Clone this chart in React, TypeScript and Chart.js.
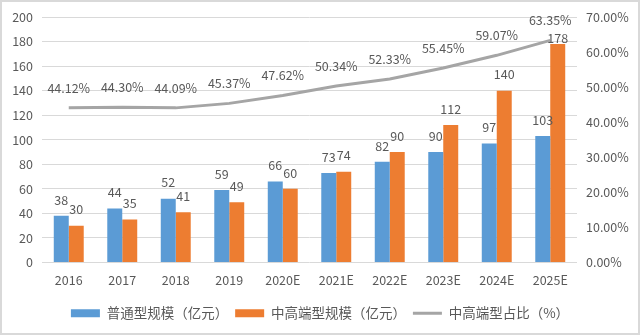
import React, { useEffect, useRef } from "react";
import { Chart, registerables } from "chart.js";

Chart.register(...registerables);

const categories = ["2016", "2017", "2018", "2019", "2020E", "2021E", "2022E", "2023E", "2024E", "2025E"];
const regularScale = [38, 44, 52, 59, 66, 73, 82, 90, 97, 103];
const highEndScale = [30, 35, 41, 49, 60, 74, 90, 112, 140, 178];
const highEndShare = [44.12, 44.3, 44.09, 45.37, 47.62, 50.34, 52.33, 55.45, 59.07, 63.35];
const seriesNames = ["普通型规模（亿元）", "中高端型规模（亿元）", "中高端型占比（%）"];
const leftAxisRange = [0, 200, 20];
const rightAxisRange = [0, 70, 10];

const FONT = '"Noto Sans CJK SC", "Noto Sans", sans-serif';
const TEXT = "#595959";
const BLUE = "#5B9BD5";
const ORANGE = "#ED7D31";
const GRAY = "#A5A5A5";

const labelPlugin = {
  id: "valueLabels",
  afterDatasetsDraw(chart: any) {
    const { ctx, chartArea } = chart;
    ctx.save();
    ctx.font = `12.5px ${FONT}`;
    ctx.fillStyle = TEXT;
    ctx.textAlign = "center";
    ctx.textBaseline = "middle";
    chart.data.datasets.forEach((ds: any, di: number) => {
      const meta = chart.getDatasetMeta(di);
      meta.data.forEach((el: any, i: number) => {
        const v = ds.data[i];
        if (ds.type === "line") {
          ctx.fillText(v.toFixed(2) + "%", el.x, el.y - 20);
        } else {
          const y = Math.max(el.y - 16, chartArea.top + 21);
          ctx.fillText(String(v), el.x, y);
        }
      });
    });
    ctx.restore();
  },
};

export default function App() {
  const ref = useRef<HTMLCanvasElement | null>(null);

  useEffect(() => {
    document.body.style.margin = "0";
    const canvas = ref.current;
    if (!canvas) return;
    const chart = new Chart(canvas, {
      type: "bar",
      data: {
        labels: categories,
        datasets: [
          {
            type: "bar",
            label: seriesNames[0],
            data: regularScale,
            backgroundColor: BLUE,
            yAxisID: "y",
            order: 2,
            categoryPercentage: 0.56,
            barPercentage: 1,
          },
          {
            type: "bar",
            label: seriesNames[1],
            data: highEndScale,
            backgroundColor: ORANGE,
            yAxisID: "y",
            order: 2,
            categoryPercentage: 0.56,
            barPercentage: 1,
          },
          {
            type: "line",
            label: seriesNames[2],
            data: highEndShare,
            borderColor: GRAY,
            backgroundColor: GRAY,
            borderWidth: 3,
            pointRadius: 0,
            tension: 0,
            yAxisID: "y1",
            order: 1,
          },
        ] as any,
      },
      options: {
        animation: false,
        responsive: false,
        devicePixelRatio: 1,
        layout: { padding: { top: 17, left: 0, right: 0, bottom: 5 } },
        plugins: {
          tooltip: { enabled: false },
          legend: {
            position: "bottom",
            labels: {
              usePointStyle: true,
              pointStyleWidth: 29,
              boxHeight: 8,
              padding: 7,
              color: TEXT,
              font: { family: FONT, size: 13.5 },
              generateLabels: (c: any) =>
                c.data.datasets.map((ds: any, i: number) => ({
                  text: ds.label,
                  fillStyle: ds.type === "line" ? ds.borderColor : ds.backgroundColor,
                  strokeStyle: ds.type === "line" ? ds.borderColor : ds.backgroundColor,
                  lineWidth: ds.type === "line" ? 3 : 0,
                  pointStyle: ds.type === "line" ? "line" : "rect",
                  hidden: false,
                  datasetIndex: i,
                  fontColor: TEXT,
                })),
            },
          },
        },
        scales: {
          x: {
            grid: { display: false, drawTicks: false },
            border: { display: false },
            ticks: { color: TEXT, font: { family: FONT, size: 12.5 }, padding: 10 },
            afterFit: (s: any) => {
              s.height = 37;
            },
          },
          y: {
            position: "left",
            min: leftAxisRange[0],
            max: leftAxisRange[1],
            grid: { color: "#D9D9D9", lineWidth: 1, drawTicks: false },
            border: { display: false },
            ticks: {
              stepSize: leftAxisRange[2],
              color: TEXT,
              font: { family: FONT, size: 12.5 },
              padding: 9,
            },
            afterFit: (s: any) => {
              s.width = 42;
            },
          },
          y1: {
            position: "right",
            min: rightAxisRange[0],
            max: rightAxisRange[1],
            grid: { display: false, drawTicks: false },
            border: { display: false },
            ticks: {
              stepSize: rightAxisRange[2],
              color: TEXT,
              font: { family: FONT, size: 12.5 },
              padding: 9,
              callback: (v: any) => Number(v).toFixed(2) + "%",
            },
            afterFit: (s: any) => {
              s.width = 63;
            },
          },
        },
      } as any,
      plugins: [labelPlugin],
    });
    return () => chart.destroy();
  }, []);

  return (
    <div style={{ position: "relative", width: 640, height: 335, background: "#fff" }}>
      <canvas ref={ref} width={640} height={335} style={{ position: "absolute", left: 0, top: 0 }} />
      <div
        style={{
          position: "absolute",
          inset: 0,
          border: "2px solid #D9D9D9",
          pointerEvents: "none",
        }}
      />
    </div>
  );
}
